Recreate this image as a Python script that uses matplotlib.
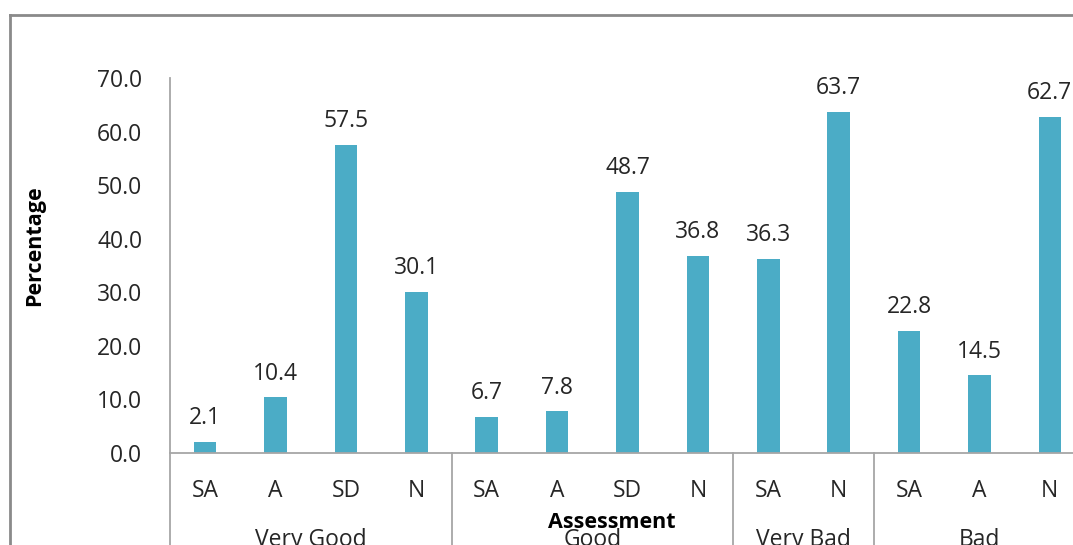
import matplotlib
matplotlib.use("Agg")
import matplotlib.pyplot as plt
from matplotlib.lines import Line2D
import matplotlib.transforms as mtransforms
import numpy as np

groups = ["Very Good", "Good", "Very Bad", "Bad"]
group_sizes = [4, 4, 2, 3]
categories = ["SA", "A", "SD", "N", "SA", "A", "SD", "N", "SA", "N", "SA", "A", "N"]
values = [2.1, 10.4, 57.5, 30.1, 6.7, 7.8, 48.7, 36.8, 36.3, 63.7, 22.8, 14.5, 62.7]
y_ticks = [0, 10, 20, 30, 40, 50, 60, 70]

W, H = 1073, 545
plt.rcParams['font.family'] = ['Open Sans', 'DejaVu Sans']
fig = plt.figure(figsize=(W / 100, H / 100), dpi=100)
fig.patch.set_facecolor("white")

left_px, right_px, top_px, bottom_px = 170, 1085, 78, 453
ax = fig.add_axes([left_px / W, (H - bottom_px) / H,
                   (right_px - left_px) / W, (bottom_px - top_px) / H])
ax.set_facecolor("none")

txt = "#262626"
axis_col = "#A6A6A6"
x = np.arange(len(values))
ax.bar(x, values, width=0.32, color="#4BACC6", zorder=2)
ax.set_xlim(-0.5, len(values) - 0.5)
ax.set_ylim(0, 70)

for xi, v in zip(x, values):
    ax.annotate(f"{v:.1f}", (xi, v), xytext=(0, 17), textcoords="offset points",
                ha="center", va="center", fontsize=16.5, color=txt)

ax.set_yticks(y_ticks)
ax.set_yticklabels([f"{t:.1f}" for t in y_ticks], fontsize=16.5, color=txt)
ax.tick_params(axis="y", length=0, pad=20)
ax.set_xticks(x)
ax.set_xticklabels(categories, fontsize=16.5, color=txt)
ax.tick_params(axis="x", length=0, pad=19)

for s in ["top", "right"]:
    ax.spines[s].set_visible(False)
ax.spines["left"].set_color(axis_col)
ax.spines["bottom"].set_color(axis_col)
ax.spines["left"].set_linewidth(1.3)
ax.spines["bottom"].set_linewidth(1.3)

trans = mtransforms.blended_transform_factory(ax.transData, ax.transAxes)
# group separators and labels
bounds = np.concatenate([[0], np.cumsum(group_sizes)]) - 0.5
for i, g in enumerate(groups):
    b = bounds[i]
    ax.plot([b, b], [0, -0.4], transform=trans, color=axis_col, lw=1.3, clip_on=False)
    c = (bounds[i] + bounds[i + 1]) / 2
    ax.text(c, -(540 - bottom_px) / (bottom_px - top_px), g, transform=trans,
            ha="center", va="center", fontsize=16.5, color=txt)
ax.plot([bounds[-1], bounds[-1]], [0, -0.4], transform=trans, color=axis_col, lw=1.3, clip_on=False)

fig.text(612 / W, 1 - 523 / H, "Assessment", ha="center", va="center",
         fontsize=15.5, fontweight="bold", color="black")
fig.text(35 / W, 1 - 246 / H, "Percentage", ha="center", va="center",
         rotation=90, fontsize=15.5, fontweight="bold", color="black")

# outer chart frame
fig.add_artist(Line2D([10 / W, 1.0], [1 - 15 / H, 1 - 15 / H], transform=fig.transFigure,
                      color="#8A8A8A", lw=2))
fig.add_artist(Line2D([10 / W, 10 / W], [1 - 15 / H, 0], transform=fig.transFigure,
                      color="#8A8A8A", lw=2))

fig.savefig("out.png", dpi=100)
